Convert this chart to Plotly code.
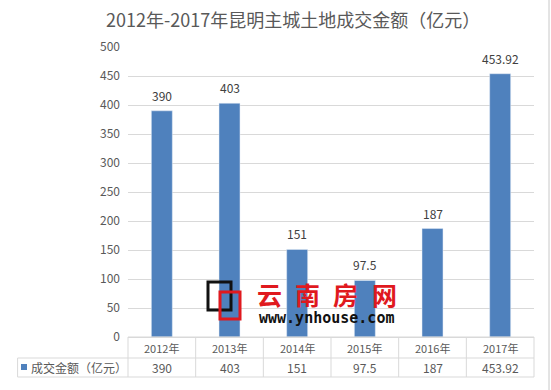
import plotly.graph_objects as go

title_text = "2012年-2017年昆明主城土地成交金额（亿元）"
categories = ["2012年", "2013年", "2014年", "2015年", "2016年", "2017年"]
values = [390, 403, 151, 97.5, 187, 453.92]
value_labels = ["390", "403", "151", "97.5", "187", "453.92"]
series_name = "成交金额（亿元）"
y_ticks = [0, 50, 100, 150, 200, 250, 300, 350, 400, 450, 500]

BAR = "#4F81BD"
GRID = "#D9D9D9"
TXT = "#595959"
FONT = "Noto Sans CJK SC, Liberation Sans, sans-serif"

W, H = 551, 390
L, R, T, B = 128, 17, 47, 53
PW, PH = W - L - R, H - T - B


def px_x(x):
    return (x - L) / PW


def px_y(y):
    return (H - B - y) / PH


fig = go.Figure()
fig.add_trace(go.Bar(x=categories, y=values, marker_color=BAR, name=series_name,
                     showlegend=False, hoverinfo="x+y"))

annotations = []
# data labels
for c, v, lab in zip(categories, values, value_labels):
    annotations.append(dict(x=c, y=v, xref="x", yref="y", text=lab, showarrow=False,
                            yanchor="bottom", yshift=5,
                            font=dict(family=FONT, size=12, color="#404040")))

n = len(categories)
row1_y = px_y(347.5)
row2_y = px_y(367)
for i, (c, lab) in enumerate(zip(categories, value_labels)):
    annotations.append(dict(x=c, y=row1_y, xref="x", yref="paper", text=c, showarrow=False,
                            yanchor="middle", font=dict(family=FONT, size=11, color=TXT)))
    annotations.append(dict(x=c, y=row2_y, xref="x", yref="paper", text=lab, showarrow=False,
                            yanchor="middle", font=dict(family=FONT, size=12, color=TXT)))

annotations.append(dict(x=px_x(29), y=row2_y, xref="paper", yref="paper", text=series_name,
                        showarrow=False, xanchor="left", yanchor="middle",
                        font=dict(family=FONT, size=12, color=TXT)))

# title
annotations.append(dict(x=px_x(293), y=px_y(19), xref="paper", yref="paper",
                        text=title_text, showarrow=False, xanchor="center", yanchor="middle",
                        font=dict(family=FONT, size=18, color=TXT)))

# watermark
wm_chars = ["云", "南", "房", "网"]
wm_x = [269, 307, 345, 384]
for ch, xx in zip(wm_chars, wm_x):
    annotations.append(dict(x=px_x(xx), y=px_y(294), xref="paper", yref="paper", text="<b>" + ch + "</b>",
                            showarrow=False, xanchor="center", yanchor="middle",
                            font=dict(family="Noto Sans CJK SC", size=25, color="#E0191E")))
annotations.append(dict(x=px_x(326), y=px_y(318), xref="paper", yref="paper",
                        text="<b>www.ynhouse.com</b>", showarrow=False, xanchor="center", yanchor="middle",
                        font=dict(family="DejaVu Sans Mono", size=15, color="#111111")))

shapes = []
line = dict(color=GRID, width=1)
y_top = px_y(337)
y_mid = px_y(358)
y_bot = px_y(377)
# table horizontal lines
shapes.append(dict(type="line", xref="paper", yref="paper", x0=0, x1=1, y0=y_top, y1=y_top, line=line))
shapes.append(dict(type="line", xref="paper", yref="paper", x0=px_x(17.6), x1=1, y0=y_mid, y1=y_mid, line=line))
shapes.append(dict(type="line", xref="paper", yref="paper", x0=px_x(17.6), x1=1, y0=y_bot, y1=y_bot, line=line))
# table vertical lines
for i in range(n + 1):
    xx = i / n
    shapes.append(dict(type="line", xref="paper", yref="paper", x0=xx, x1=xx, y0=y_top, y1=y_bot, line=line))
shapes.append(dict(type="line", xref="paper", yref="paper", x0=px_x(17.6), x1=px_x(17.6), y0=y_mid, y1=y_bot, line=line))
# legend key
shapes.append(dict(type="rect", xref="paper", yref="paper", x0=px_x(21), x1=px_x(27), y0=px_y(370), y1=px_y(364),
                   fillcolor=BAR, line=dict(width=0)))
# watermark squares
shapes.append(dict(type="rect", xref="paper", yref="paper", x0=px_x(208), x1=px_x(231), y0=px_y(310), y1=px_y(282),
                   line=dict(color="#111111", width=3)))
shapes.append(dict(type="rect", xref="paper", yref="paper", x0=px_x(220), x1=px_x(240), y0=px_y(319), y1=px_y(292),
                   line=dict(color="#E0191E", width=3)))
# right edge border line
shapes.append(dict(type="line", xref="paper", yref="paper", x0=px_x(549), x1=px_x(549), y0=px_y(0), y1=px_y(390),
                   line=dict(color="#C8C8C8", width=1)))

fig.update_layout(
    width=W, height=H,
    margin=dict(l=L, r=R, t=T, b=B, autoexpand=False),
    paper_bgcolor="white", plot_bgcolor="white",
    bargap=0.69,
    showlegend=False,
    annotations=annotations,
    shapes=shapes,
    font=dict(family=FONT, color=TXT),
)
fig.update_xaxes(showticklabels=False, showgrid=False, zeroline=False, showline=False, ticks="")
fig.update_yaxes(range=[0, 500], tickvals=y_ticks, showgrid=True, gridcolor=GRID, gridwidth=1,
                 zeroline=True, zerolinecolor=GRID, zerolinewidth=1, showline=False,
                 ticks="", ticklabelstandoff=7,
                 tickfont=dict(family=FONT, size=12, color=TXT))

fig.write_html("out.html", config={"displayModeBar": False},
               post_script="document.body.style.margin='0px';document.body.style.overflow='hidden';")
